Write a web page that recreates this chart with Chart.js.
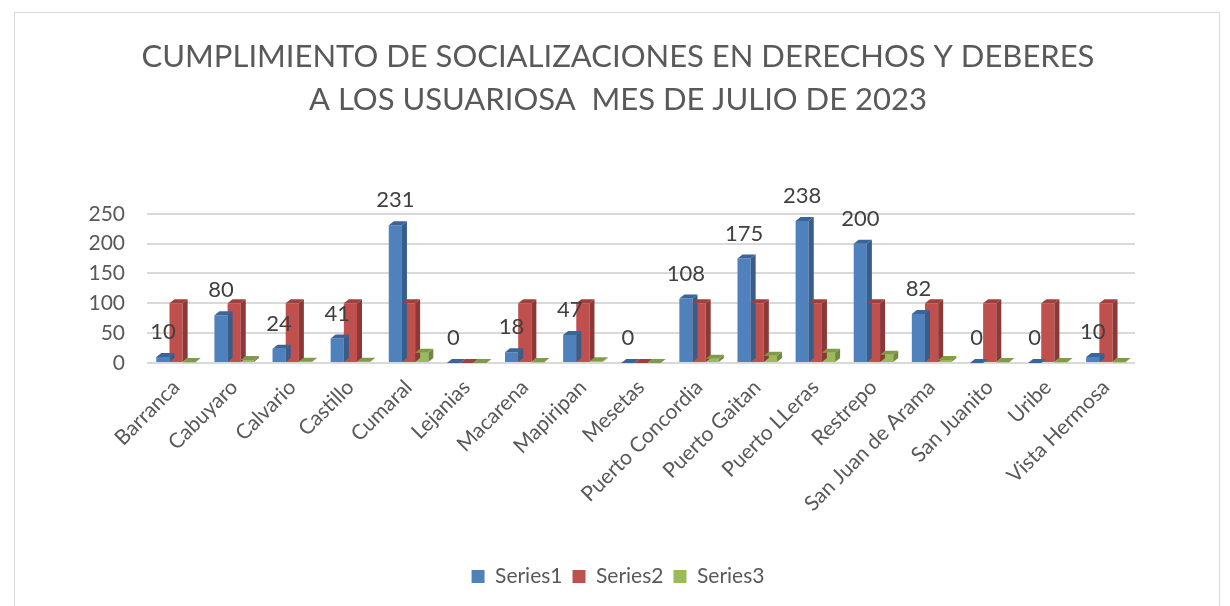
<!DOCTYPE html>
<html>
<head>
<meta charset="utf-8">
<script src="https://cdn.jsdelivr.net/npm/chart.js@4.4.0/dist/chart.umd.min.js"></script>
<style>
    body { margin: 0; background: #ffffff; }
    #wrap { position: relative; width: 1230px; height: 606px; }
    #borde { position: absolute; left: 14px; top: 12px; width: 1204px; height: 600px; border: 1px solid #d9d9d9; pointer-events: none; }
</style>
</head>
<body>
<div id="wrap">
    <canvas id="grafico" width="1230" height="606"></canvas>
    <div id="borde"></div>
</div>
<script>
// Datos del gráfico
const municipios = ['Barranca', 'Cabuyaro', 'Calvario', 'Castillo', 'Cumaral', 'Lejanias', 'Macarena', 'Mapiripan', 'Mesetas', 'Puerto Concordia', 'Puerto Gaitan', 'Puerto LLeras', 'Restrepo', 'San Juan de Arama', 'San Juanito', 'Uribe', 'Vista Hermosa'];
const series1 = [10, 80, 24, 41, 231, 0, 18, 47, 0, 108, 175, 238, 200, 82, 0, 0, 10];
const series2 = [100, 100, 100, 100, 100, 0, 100, 100, 0, 100, 100, 100, 100, 100, 100, 100, 100];
const series3 = [1, 5, 2, 2, 17, 0, 1, 3, 0, 7, 12, 17, 14, 5, 1, 1, 1];
const ticksY = [0, 50, 100, 150, 200, 250];

const tituloLineas = ['CUMPLIMIENTO DE SOCIALIZACIONES EN DERECHOS Y DEBERES', 'A LOS USUARIOSA  MES DE JULIO DE 2023'];
const gris = '#595959';
const fuente = 'Lato, "Open Sans", sans-serif';

// Colores: cara frontal, lado, tapa
const colores = [
    { frente: '#4f81bd', lado: '#385d8a', tapa: '#3a6598' },
    { frente: '#c0504d', lado: '#8c3836', tapa: '#9e413e' },
    { frente: '#9bbb59', lado: '#71893f', tapa: '#7f9b47' }
];

// Efecto 3D simple: lado derecho y tapa de cada barra
const barras3d = {
    id: 'barras3d',
    afterDatasetsDraw(chart) {
        const ctx = chart.ctx;
        const d = 5, dy = 4;
        ctx.save();
        chart.data.datasets.forEach((ds, i) => {
            const meta = chart.getDatasetMeta(i);
            meta.data.forEach(bar => {
                const x0 = bar.x - bar.width / 2, x1 = bar.x + bar.width / 2;
                const top = Math.min(bar.y, bar.base), base = bar.base;
                ctx.fillStyle = colores[i].lado;
                ctx.beginPath();
                ctx.moveTo(x1, top); ctx.lineTo(x1 + d, top - dy);
                ctx.lineTo(x1 + d, base - dy); ctx.lineTo(x1, base);
                ctx.closePath(); ctx.fill();
                ctx.fillStyle = colores[i].tapa;
                ctx.beginPath();
                ctx.moveTo(x0, top); ctx.lineTo(x0 + d, top - dy);
                ctx.lineTo(x1 + d, top - dy); ctx.lineTo(x1, top);
                ctx.closePath(); ctx.fill();
            });
        });
        ctx.restore();
    }
};

// Etiquetas de datos de la Series1
const etiquetas = {
    id: 'etiquetas',
    afterDraw(chart) {
        const ctx = chart.ctx;
        const meta = chart.getDatasetMeta(0);
        ctx.save();
        ctx.font = '22px ' + fuente;
        ctx.fillStyle = '#404040';
        ctx.textAlign = 'center';
        ctx.textBaseline = 'middle';
        meta.data.forEach((bar, i) => {
            ctx.fillText(String(series1[i]), bar.x, bar.y - 25);
        });
        ctx.restore();
    }
};

new Chart(document.getElementById('grafico').getContext('2d'), {
    type: 'bar',
    data: {
        labels: municipios,
        datasets: [
            { label: 'Series1', data: series1, backgroundColor: colores[0].frente },
            { label: 'Series2', data: series2, backgroundColor: colores[1].frente },
            { label: 'Series3', data: series3, backgroundColor: colores[2].frente }
        ]
    },
    options: {
        responsive: false,
        animation: false,
        layout: { padding: { left: 6, right: 0, top: 0, bottom: 9 } },
        datasets: { bar: { categoryPercentage: 0.68, barPercentage: 1, borderWidth: 0 } },
        scales: {
            x: {
                grid: { display: false },
                border: { display: false },
                ticks: { color: gris, font: { family: fuente, size: 21 }, minRotation: 45, maxRotation: 45, padding: 4 },
                afterFit(scale) { scale.height = 193; }
            },
            y: {
                min: 0,
                max: 250,
                afterBuildTicks(scale) { scale.ticks = ticksY.map(v => ({ value: v })); },
                grid: { color: '#d9d9d9', lineWidth: 2, drawTicks: false },
                border: { display: false },
                ticks: { color: gris, font: { family: fuente, size: 21 }, padding: 22 },
                afterFit(scale) { scale.width = 141; }
            },
            // eje vacío a la derecha, solo reserva espacio
            derecha: {
                position: 'right',
                grid: { display: false },
                border: { display: false },
                ticks: { display: false },
                afterFit(scale) { scale.width = 95; }
            }
        },
        plugins: {
            title: {
                display: true,
                text: tituloLineas,
                color: gris,
                font: { family: fuente, size: 31, weight: 'normal', lineHeight: 1.4 },
                padding: { top: 35, bottom: 92 }
            },
            legend: {
                position: 'bottom',
                labels: { color: gris, font: { family: fuente, size: 21 }, boxWidth: 13, boxHeight: 13, padding: 10 }
            },
            tooltip: { enabled: false }
        }
    },
    plugins: [barras3d, etiquetas]
});
</script>
</body>
</html>
